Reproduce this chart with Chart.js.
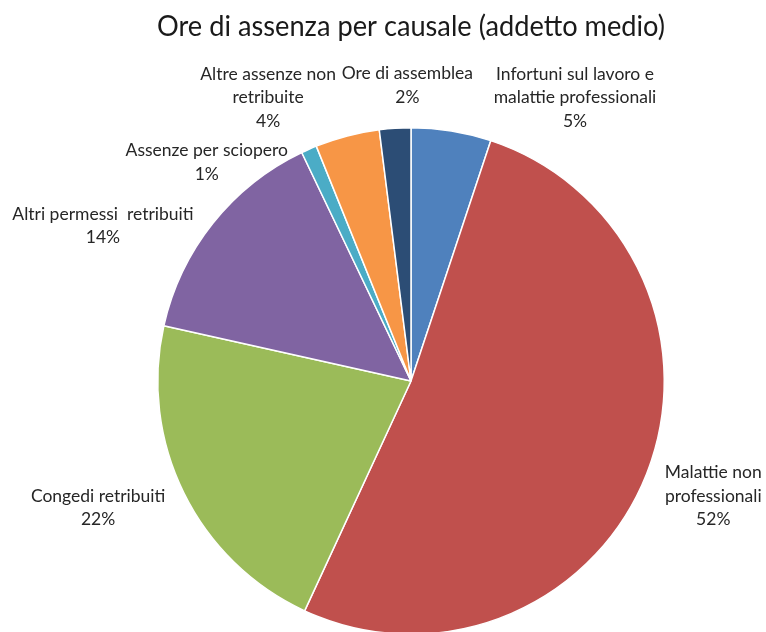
<!DOCTYPE html>
<html>
<head>
<meta charset="utf-8">
<script src="https://cdn.jsdelivr.net/npm/chart.js@4"></script>
<style>
  html, body { margin: 0; padding: 0; background: #fff; overflow: hidden; }
</style>
</head>
<body>
<canvas id="pieChart" width="766" height="650"></canvas>
<script>
  // dati (ore di assenza, quota %)
  const categories = [
    ["Infortuni sul lavoro e", "malattie professionali"],
    ["Malattie non", "professionali"],
    ["Congedi retribuiti"],
    ["Altri permessi  retribuiti"],
    ["Assenze per sciopero"],
    ["Altre assenze non", "retribuite"],
    ["Ore di assemblea"]
  ];
  const shares = [5.1, 51.8, 21.6, 14.4, 1.0, 4.1, 2.0];
  const colors = ["#4F81BD", "#C0504D", "#9BBB59", "#8064A2", "#4BACC6", "#F79646", "#2C4D75"];

  // spostamento delle etichette rispetto al punto radiale
  const labelNudge = [[114, 26], [11, 0], [-32, -12], [-63, 40], [-78, 68], [-64, 20], [16, 17]];

  const FONT = "Lato, 'Noto Sans', sans-serif";

  const outsideLabels = {
    id: "outsideLabels",
    afterDatasetsDraw(chart) {
      const ctx = chart.ctx;
      const meta = chart.getDatasetMeta(0);
      const total = shares.reduce((a, b) => a + b, 0);
      ctx.save();
      ctx.font = "17.5px " + FONT;
      ctx.fillStyle = "#262626";
      ctx.textAlign = "center";
      ctx.textBaseline = "middle";
      meta.data.forEach((arc, i) => {
        const p = arc.getProps(["x", "y", "startAngle", "endAngle", "outerRadius"], true);
        const mid = (p.startAngle + p.endAngle) / 2;
        const d = p.outerRadius + 60;
        const cx = p.x + Math.cos(mid) * d + labelNudge[i][0];
        const cy = p.y + Math.sin(mid) * d + labelNudge[i][1];
        const lines = categories[i].concat([Math.round(shares[i] / total * 100) + "%"]);
        const lh = 23.5;
        const top = cy - (lines.length - 1) * lh / 2;
        lines.forEach((t, k) => ctx.fillText(t, cx, top + k * lh));
      });
      ctx.restore();
    }
  };

  new Chart(document.getElementById("pieChart").getContext("2d"), {
    type: "pie",
    data: {
      labels: categories,
      datasets: [{
        data: shares,
        backgroundColor: colors,
        borderColor: "#ffffff",
        borderWidth: 1.5
      }]
    },
    options: {
      responsive: false,
      animation: false,
      layout: { padding: { left: 157, right: 101, top: 2, bottom: 15 } },
      plugins: {
        legend: { display: false },
        tooltip: { enabled: false },
        title: {
          display: true,
          text: "Ore di assenza per causale (addetto medio)",
          color: "#1a1a1a",
          font: { family: FONT, size: 28, weight: "normal" },
          padding: { top: 8, bottom: 83.4 }
        }
      }
    },
    plugins: [outsideLabels]
  });
</script>
</body>
</html>
